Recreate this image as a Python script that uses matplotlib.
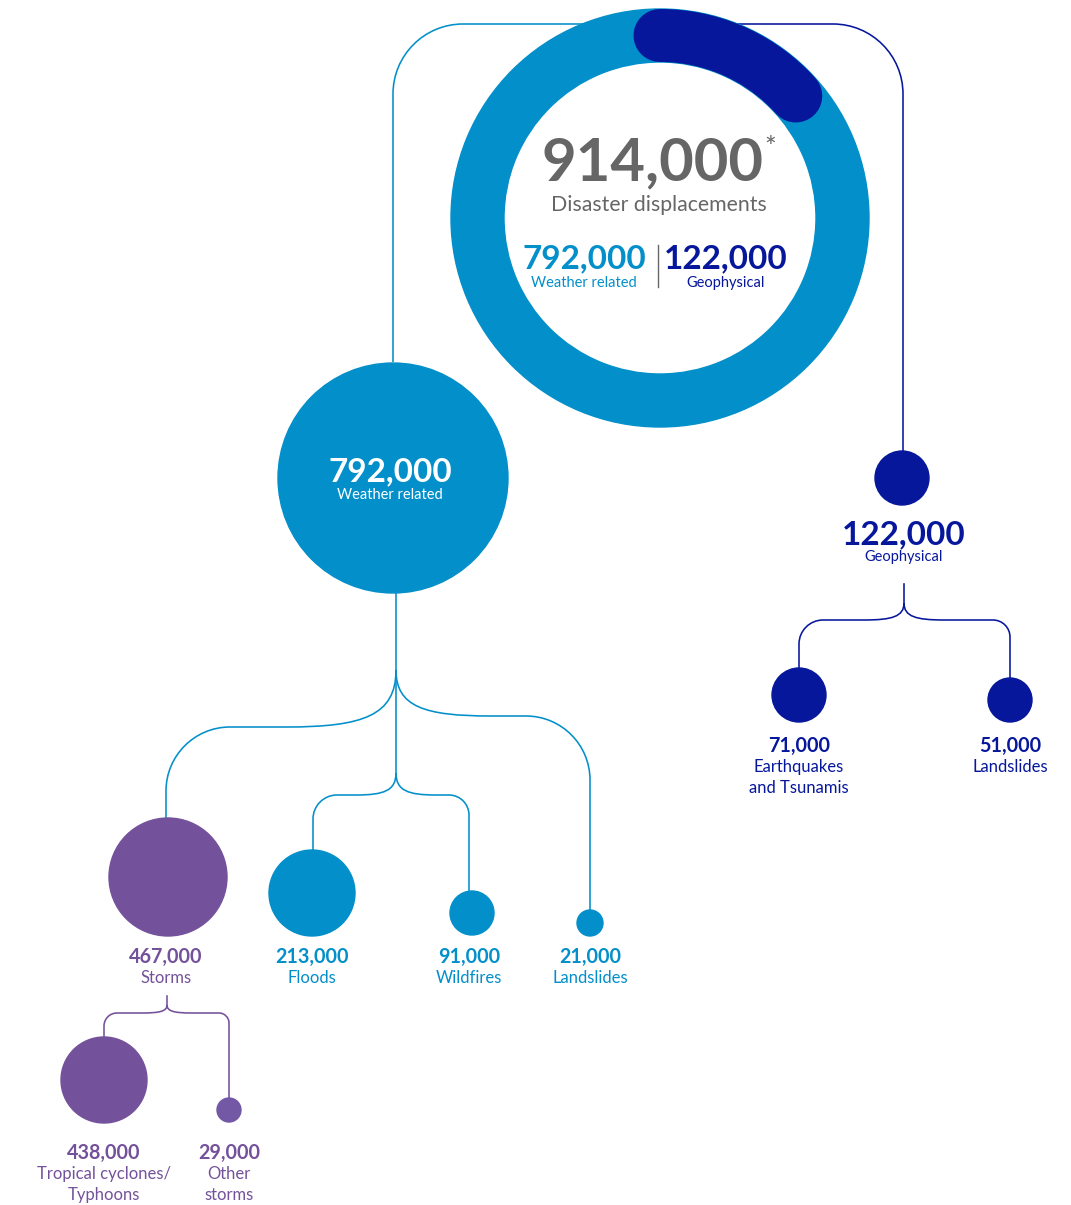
import numpy as np
import matplotlib.pyplot as plt
from matplotlib.patches import Circle, Wedge, PathPatch
from matplotlib.path import Path

plt.rcParams['font.family'] = ['Lato', 'DejaVu Sans']

# Dados
total = 914000
group_labels = ['Weather related', 'Geophysical']
group_values = [792000, 122000]
weather_labels = ['Storms', 'Floods', 'Wildfires', 'Landslides']
weather_values = [467000, 213000, 91000, 21000]
geo_labels = ['Earthquakes\nand Tsunamis', 'Landslides']
geo_values = [71000, 51000]
storm_labels = ['Tropical cyclones/\nTyphoons', 'Other\nstorms']
storm_values = [438000, 29000]

# Cores
azul = '#038fca'
azul_esc = '#06179c'
roxo = '#74519b'
cinza = '#666666'


def fmt(v):
    return f'{v:,}'


fig = plt.figure(figsize=(10.71, 12.05), dpi=100)
ax = fig.add_axes([0, 0, 1, 1])
ax.set_xlim(0, 1071)
ax.set_ylim(1205, 0)
ax.axis('off')

lw = 1.15
K = 0.5523


def caminho(pts, cor, z=1):
    verts, codes = [], []
    for tipo, p in pts:
        verts += p
        codes += [tipo] * len(p)
    ax.add_patch(PathPatch(Path(verts, codes), fc='none', ec=cor, lw=lw, zorder=z))


def ramo(x0, y0, yh, w, xt, r, yt, cor):
    s = 1 if xt > x0 else -1
    pts = [(Path.MOVETO, [(x0, y0)]),
           (Path.CURVE4, [(x0, y0 + 0.8 * (yh - y0)), (x0 + s * w * 0.3, yh), (x0 + s * w, yh)]),
           (Path.LINETO, [(xt - s * r, yh)]),
           (Path.CURVE4, [(xt - s * r + s * K * r, yh), (xt, yh + r - K * r), (xt, yh + r)]),
           (Path.LINETO, [(xt, yt)])]
    caminho(pts, cor)


def canto(xa, ya, xc, yc, xb, yb, r, cor):
    def unit(dx, dy):
        n = np.hypot(dx, dy)
        return dx / n, dy / n
    ux1, uy1 = unit(xc - xa, yc - ya)
    ux2, uy2 = unit(xb - xc, yb - yc)
    p1 = (xc - ux1 * r, yc - uy1 * r)
    p2 = (xc + ux2 * r, yc + uy2 * r)
    pts = [(Path.MOVETO, [(xa, ya)]),
           (Path.LINETO, [p1]),
           (Path.CURVE4, [(p1[0] + ux1 * K * r, p1[1] + uy1 * K * r),
                          (p2[0] - ux2 * K * r, p2[1] - uy2 * K * r), p2]),
           (Path.LINETO, [(xb, yb)])]
    caminho(pts, cor)


def rotulo(x, y, texto, cor, tam=12, passo=21):
    # uma linha de cada vez, alinhada pela linha de base
    for k, linha in enumerate(texto.split('\n')):
        ax.text(x, y + k * passo, linha, ha='center', va='baseline',
                fontsize=tam, color=cor)


# Donut principal
cx, cy, R, larg = 660, 218, 209, 53
ax.add_patch(Wedge((cx, cy), R, 0, 360, width=larg, color=azul, zorder=3))
frac = group_values[1] / total
ang = np.radians(np.linspace(90, 90 - 360 * frac, 100))
rm = R - larg / 2
ax.plot(cx + rm * np.cos(ang), cy - rm * np.sin(ang), color=azul_esc,
        lw=larg * 0.72, solid_capstyle='round', zorder=4)

ax.text(653, 180, fmt(total), ha='center', va='baseline', fontsize=43,
        fontweight='bold', color=cinza, zorder=5)
ax.text(770, 157, '*', ha='center', va='baseline', fontsize=20, color=cinza, zorder=5)
ax.text(659, 211, 'Disaster displacements', ha='center', va='baseline',
        fontsize=15.3, color=cinza, zorder=5)
ax.text(584, 268, fmt(group_values[0]), ha='center', va='baseline', fontsize=24,
        fontweight='bold', color=azul, zorder=5)
ax.text(584, 287, group_labels[0], ha='center', va='baseline', fontsize=10.5,
        color=azul, zorder=5)
ax.text(726, 268, fmt(group_values[1]), ha='center', va='baseline', fontsize=24,
        fontweight='bold', color=azul_esc, zorder=5)
ax.text(726, 287, group_labels[1], ha='center', va='baseline', fontsize=10.5,
        color=azul_esc, zorder=5)
ax.plot([658, 658], [245, 287], color=cinza, lw=1, zorder=5)

# Ligacoes de cima
canto(393, 362, 393, 24, 660, 24, 70, azul)
canto(660, 24, 903, 24, 903, 452, 70, azul_esc)

# Circulo "Weather related"
ax.add_patch(Circle((393, 478), 115, color=azul, zorder=3))
ax.text(390, 481, fmt(group_values[0]), ha='center', va='baseline', fontsize=24,
        fontweight='bold', color='white', zorder=5)
ax.text(390, 499, group_labels[0], ha='center', va='baseline', fontsize=10.5,
        color='white', zorder=5)

# Circulo "Geophysical"
ax.add_patch(Circle((902, 478), 27, color=azul_esc, zorder=3))
ax.text(904, 544, fmt(group_values[1]), ha='center', va='baseline', fontsize=24,
        fontweight='bold', color=azul_esc, zorder=5)
ax.text(904, 561, group_labels[1], ha='center', va='baseline', fontsize=10.5,
        color=azul_esc, zorder=5)

# Ramos do clima
ax.plot([396, 396], [593, 773], color=azul, lw=lw)
ramo(396, 670, 727, 110, 166, 64, 820, azul)
ramo(396, 670, 716, 95, 590, 64, 911, azul)
ramo(396, 773, 795, 40, 313, 24, 851, azul)
ramo(396, 773, 795, 40, 469, 20, 892, azul)

wx = [168, 312, 472, 590]
wy = [877, 893, 913, 923]
wr = [59, 43, 22, 13]
wcor = [roxo, azul, azul, azul]
lx = [166, 312, 469, 590]
for i in range(len(weather_values)):
    ax.add_patch(Circle((wx[i], wy[i]), wr[i], color=wcor[i], zorder=3))
    ax.text(lx[i], 963, fmt(weather_values[i]), ha='center', va='baseline',
            fontsize=14.2, fontweight='bold', color=wcor[i])
    rotulo(lx[i], 983, weather_labels[i], wcor[i])

# Ramos geofisicos
ax.plot([904, 904], [584, 604], color=azul_esc, lw=lw)
ramo(904, 603, 620, 40, 799, 24, 668, azul_esc)
ramo(904, 603, 620, 40, 1010, 17, 678, azul_esc)
gx = [799, 1010]
gy = [695, 700]
gr = [27, 22]
for i in range(len(geo_values)):
    ax.add_patch(Circle((gx[i], gy[i]), gr[i], color=azul_esc, zorder=3))
    ax.text(gx[i], 752, fmt(geo_values[i]), ha='center', va='baseline',
            fontsize=14.2, fontweight='bold', color=azul_esc)
    rotulo(gx[i], 772, geo_labels[i], azul_esc)

# Ramos das tempestades
ax.plot([167, 167], [996, 1006], color=roxo, lw=lw)
ramo(167, 1005, 1013, 25, 104, 13, 1038, roxo)
ramo(167, 1005, 1013, 25, 229, 10, 1099, roxo)
sx = [104, 229]
sy = [1080, 1110]
sr = [43, 12]
scor = [roxo, '#7358a6']
for i in range(len(storm_values)):
    ax.add_patch(Circle((sx[i], sy[i]), sr[i], color=scor[i], zorder=3))
    ax.text(sx[i], 1159, fmt(storm_values[i]), ha='center', va='baseline',
            fontsize=14.2, fontweight='bold', color=roxo)
    rotulo(sx[i], 1179, storm_labels[i], roxo)

fig.savefig('out.png', dpi=100)
